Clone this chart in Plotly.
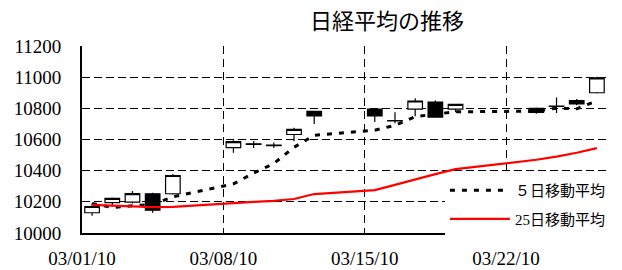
import pandas as pd
import plotly.graph_objects as go

# ---- data ----
dates = ["2010-03-01", "2010-03-02", "2010-03-03", "2010-03-04", "2010-03-05",
         "2010-03-08", "2010-03-09", "2010-03-10", "2010-03-11", "2010-03-12",
         "2010-03-15", "2010-03-16", "2010-03-17", "2010-03-18", "2010-03-19",
         "2010-03-23", "2010-03-24", "2010-03-25", "2010-03-26"]
open_ = [10130, 10195, 10198, 10252, 10252, 10548, 10572, 10560, 10632, 10780,
         10795, 10720, 10795, 10840, 10795, 10800, 10812, 10850, 10900]
high = [10190, 10228, 10270, 10258, 10378, 10595, 10590, 10580, 10675, 10785,
        10800, 10775, 10865, 10850, 10830, 10805, 10870, 10860, 11002]
low = [10110, 10170, 10190, 10130, 10245, 10515, 10545, 10545, 10588, 10700,
       10712, 10705, 10750, 10740, 10775, 10765, 10770, 10820, 10895]
close = [10170, 10222, 10253, 10146, 10369, 10586, 10568, 10564, 10665, 10751,
         10752, 10722, 10847, 10744, 10825, 10774, 10815, 10829, 10996]
ma5 = [10190, 10164, 10175, 10184, 10232, 10315, 10384, 10446, 10550, 10627,
       10660, 10691, 10747, 10763, 10778, 10782, 10801, 10797, 10848]
ma25 = [10180, 10176, 10170, 10166, 10168, 10195, 10200, 10206, 10218, 10250,
        10275, 10309, 10345, 10378, 10410, 10470, 10490, 10515, 10545]

tick_dates = ["2010-03-01", "2010-03-08", "2010-03-15", "2010-03-22"]
tick_labels = ["03/01/10", "03/08/10", "03/15/10", "03/22/10"]
y_ticks = [10000, 10200, 10400, 10600, 10800, 11000, 11200]
y_labels = ["10000", "10200", "10400", "10600", "10800", "11000", "11200"]

title_text = "日経平均の推移"
name_ma5 = "５日移動平均"
name_ma25 = "25日移動平均"

# candles sit in the middle of each day's slot on the date axis
x = pd.to_datetime(dates) + pd.Timedelta(hours=12)

fig = go.Figure()
fig.add_trace(go.Candlestick(
    x=x, open=open_, high=high, low=low, close=close,
    increasing=dict(line=dict(color="black", width=1.2), fillcolor="white"),
    decreasing=dict(line=dict(color="black", width=1.2), fillcolor="black"),
    whiskerwidth=0, showlegend=False,
))
fig.add_trace(go.Scatter(
    x=x, y=ma5, mode="lines", name=name_ma5, legendgroup="a",
    line=dict(color="black", width=3, dash="5px,7px"),
))
fig.add_trace(go.Scatter(
    x=x, y=ma25, mode="lines", name=name_ma25, legendgroup="b",
    line=dict(color="#ff0000", width=2.2),
))

serif = "Liberation Serif, Noto Sans CJK JP, serif"
fig.update_layout(
    template="none",
    width=622, height=270,
    margin=dict(l=82, r=14, t=46, b=37),
    paper_bgcolor="white", plot_bgcolor="white",
    font=dict(family=serif, color="black"),
    boxgap=0.15, boxgroupgap=0.15,
    title=dict(text=title_text, x=387 / 622, xref="container", xanchor="center",
               y=1 - 21 / 270, yref="container", yanchor="middle",
               font=dict(family="Noto Sans CJK JP", size=22, color="black")),
    legend=dict(x=0.69, y=0.315, xanchor="left", yanchor="top",
                bgcolor="white", font=dict(family=serif, size=15, color="black"),
                itemwidth=60, tracegroupgap=6),
    xaxis=dict(type="date", range=["2010-03-01", "2010-03-27"], automargin=False,
               tickvals=tick_dates, ticktext=tick_labels,
               showgrid=True, gridcolor="black", gridwidth=1, griddash="8px,5px",
               showline=True, linecolor="black", linewidth=2,
               ticks="", ticklabelstandoff=7,
               tickfont=dict(family=serif, size=19, color="black"),
               rangeslider=dict(visible=False), zeroline=False),
    yaxis=dict(range=[10000, 11200], tickvals=y_ticks, ticktext=y_labels,
               automargin=False,
               showgrid=True, gridcolor="black", gridwidth=1, griddash="8px,4px",
               showline=True, linecolor="black", linewidth=2,
               ticks="", ticklabelstandoff=15,
               tickfont=dict(family=serif, size=19, color="black"), zeroline=False),
)

fig.write_html("out.html", config={"displayModeBar": False},
               post_script="document.body.style.margin='0';document.body.style.overflow='hidden';")
